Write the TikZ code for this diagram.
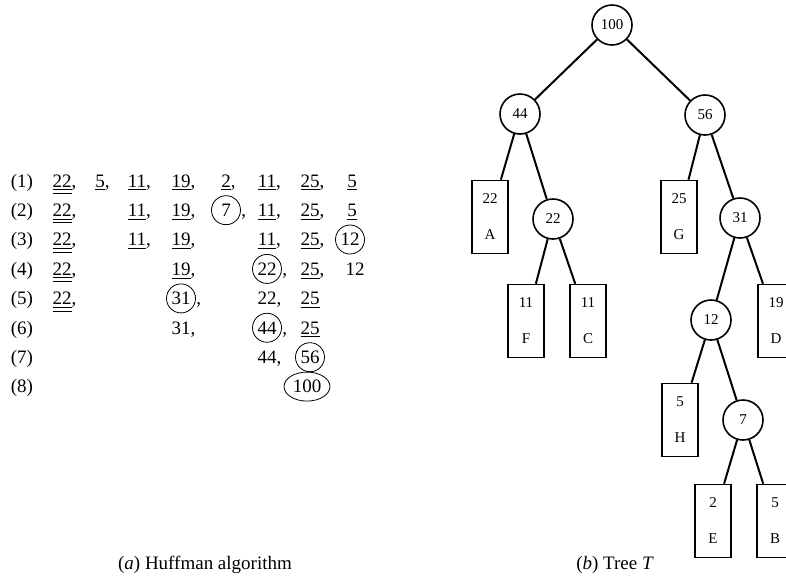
\documentclass[tikz,border=0pt]{standalone}
\usepackage{fontspec}
\setmainfont{Liberation Serif}
\usepackage{amsmath}
\usepackage{tikz}
\usetikzlibrary{shapes.geometric}

\newcommand{\uone}[1]{\underline{#1}}
\newcommand{\utwo}[1]{\underline{\underline{#1}}}
\newcommand{\cm}{\rlap{,}}

\tikzset{
    cell/.style={anchor=base, inner sep=0pt, font=\fontsize{9.5}{11}\selectfont},
    ring/.style={cell, draw, circle, thin, minimum size=14.5pt},
    oval/.style={cell, draw, ellipse, thin, inner sep=1pt, minimum height=14.5pt},
    knot/.style={draw, circle, line width=0.8pt, minimum size=20pt, inner sep=0pt,
                 font=\fontsize{7.5}{9}\selectfont},
    leaf/.style={draw, rectangle, line width=0.8pt, minimum width=18pt, minimum height=36.5pt,
                 inner sep=0pt, align=center, font=\fontsize{7.5}{9}\selectfont},
    edge/.style={line width=1pt}
}

\begin{document}
\begin{tikzpicture}[x=0.5pt, y=-0.5pt]
    \useasboundingbox (0, 0) rectangle (786, 575);
    \clip (0, 0) rectangle (786, 575);

    % 行号
    \foreach \r in {1,...,8}
        \node[cell] (lab\r) at (22, {187+29.4*(\r-1)}) {(\r)};

    % 各行的权值
    \foreach \r/\row in {
        1/{62/\utwo{22}\cm, 100/\uone{5}\cm, 137/\uone{11}\cm, 181/\uone{19}\cm,
           226/\uone{2}\cm, 267/\uone{11}\cm, 310/\uone{25}\cm, 352/\uone{5}},
        2/{62/\utwo{22}\cm, 137/\uone{11}\cm, 181/\uone{19}\cm, 267/\uone{11}\cm,
           310/\uone{25}\cm, 352/\uone{5}},
        3/{62/\utwo{22}\cm, 137/\uone{11}\cm, 181/\uone{19}\cm, 267/\uone{11}\cm,
           310/\uone{25}\cm},
        4/{62/\utwo{22}\cm, 181/\uone{19}\cm, 310/\uone{25}\cm, 355/12},
        5/{62/\utwo{22}\cm, 267/22\cm, 310/\uone{25}},
        6/{181/31\cm, 310/\uone{25}},
        7/{267/44\cm}}
        \foreach \x/\t in \row
            \node[cell] (w\r-\x) at (\x, {187+29.4*(\r-1)}) {\t};

    % 新合并的结点
    \node[ring] (o7) at (226, 216.4) {7};
    \node[ring] (o12) at (350, 245.8) {12};
    \node[ring] (o22) at (267, 275.2) {22};
    \node[ring] (o31) at (181, 304.6) {31};
    \node[ring] (o44) at (267, 334) {44};
    \node[ring] (o56) at (310, 363.4) {56};
    \node[oval] (o100) at (307, 392.8) {100};
    \foreach \n in {o7, o22, o31, o44}
        \node[cell, anchor=base west] (k\n) at (\n.east |- \n.base) {,};

    % 哈夫曼树
    \node[knot] (n100) at (612, 25) {100};
    \node[knot] (n44) at (520, 114) {44};
    \node[knot] (n56) at (705, 115) {56};
    \node[knot] (n22) at (553, 219) {22};
    \node[knot] (n31) at (740, 218) {31};
    \node[knot] (n12) at (711, 320) {12};
    \node[knot] (n7) at (743, 420) {7};

    \node[leaf] (lA) at (490, 217) {22\\[9pt]A};
    \node[leaf] (lG) at (679, 217) {25\\[9pt]G};
    \node[leaf] (lF) at (526, 321) {11\\[9pt]F};
    \node[leaf] (lC) at (588, 321) {11\\[9pt]C};
    \node[leaf] (lD) at (776, 321) {19\\[9pt]D};
    \node[leaf] (lH) at (680, 420) {5\\[9pt]H};
    \node[leaf] (lE) at (713, 521) {2\\[9pt]E};
    \node[leaf] (lB) at (775, 521) {5\\[9pt]B};

    \draw[edge] (n100) -- (n44);
    \draw[edge] (n100) -- (n56);
    \draw[edge] (n44) -- (lA);
    \draw[edge] (n44) -- (n22);
    \draw[edge] (n22) -- (lF);
    \draw[edge] (n22) -- (lC);
    \draw[edge] (n56) -- (lG);
    \draw[edge] (n56) -- (n31);
    \draw[edge] (n31) -- (n12);
    \draw[edge] (n31) -- (lD);
    \draw[edge] (n12) -- (lH);
    \draw[edge] (n12) -- (n7);
    \draw[edge] (n7) -- (lE);
    \draw[edge] (n7) -- (lB);

    % 图题
    \node[font=\fontsize{9.5}{11}\selectfont] (capa) at (205, 565) {(\textit{a}) Huffman algorithm};
    \node[font=\fontsize{9.5}{11}\selectfont] (capb) at (615, 565) {(\textit{b}) Tree \textit{T}};
\end{tikzpicture}
\end{document}
